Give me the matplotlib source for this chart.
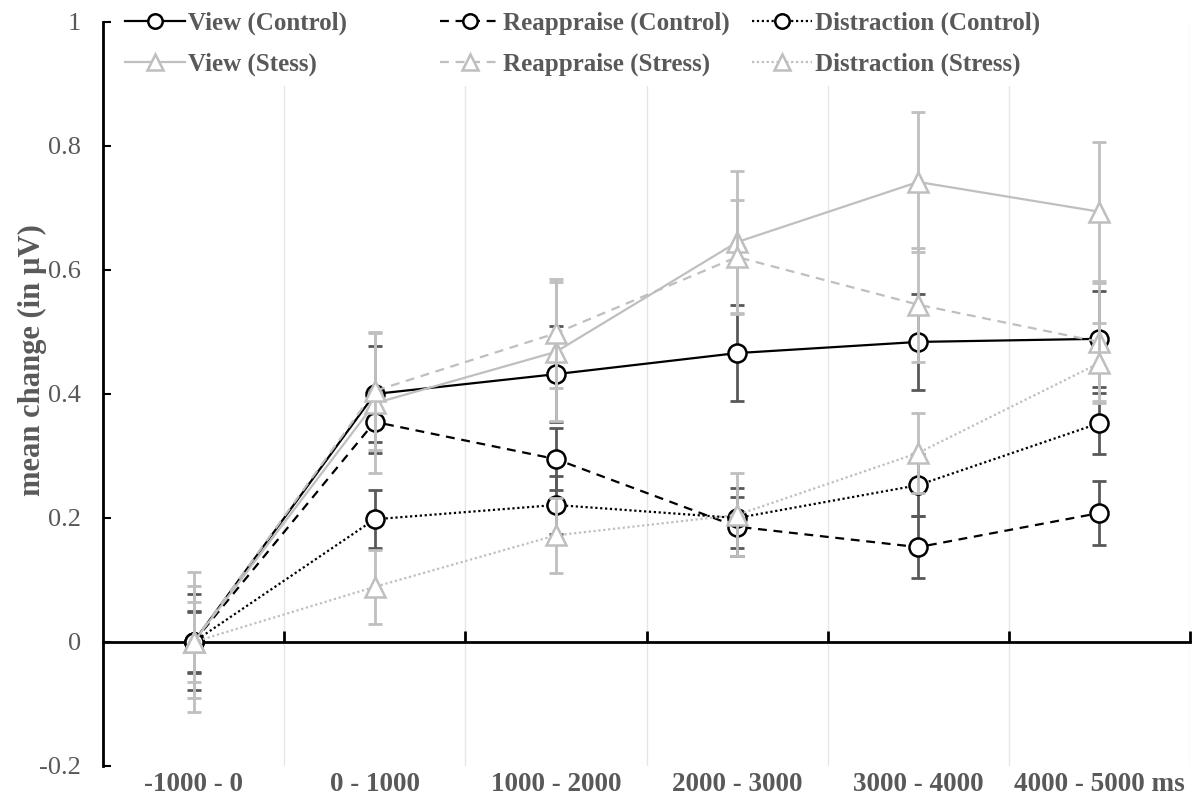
#!/usr/bin/env python
from __future__ import annotations

import matplotlib

matplotlib.use("Agg")
import matplotlib.pyplot as plt
import numpy as np

categories = ["-1000 - 0", "0 - 1000", "1000 - 2000", "2000 - 3000", "3000 - 4000", "4000 - 5000 ms"]

# means (in µV) per time window
view_control = [0.0, 0.400, 0.432, 0.466, 0.484, 0.489]
reapp_control = [0.0, 0.355, 0.295, 0.186, 0.153, 0.208]
distr_control = [0.0, 0.198, 0.221, 0.200, 0.253, 0.353]
view_stress = [0.0, 0.385, 0.468, 0.645, 0.742, 0.694]
reapp_stress = [0.0, 0.405, 0.498, 0.621, 0.544, 0.484]
distr_stress = [0.0, 0.089, 0.172, 0.205, 0.305, 0.450]

# error bar half-widths
view_control_err = [0.077, 0.077, 0.077, 0.078, 0.078, 0.077]
reapp_control_err = [0.050, 0.050, 0.050, 0.048, 0.050, 0.052]
distr_control_err = [0.048, 0.047, 0.047, 0.048, 0.050, 0.049]
view_stress_err = [0.113, 0.113, 0.112, 0.115, 0.113, 0.112]
reapp_stress_err = [0.090, 0.095, 0.088, 0.092, 0.092, 0.095]
distr_stress_err = [0.065, 0.060, 0.060, 0.067, 0.064, 0.065]

y_ticks = [-0.2, 0, 0.2, 0.4, 0.6, 0.8, 1]
y_tick_labels = ["-0.2", "0", "0.2", "0.4", "0.6", "0.8", "1"]

TEXT = "#595959"
DARK = "#000000"
LIGHT = "#bfbfbf"
ERR_DARK = "#595959"
W, H = 1192, 807

plt.rcParams["font.family"] = ["Liberation Serif", "DejaVu Serif"]

fig = plt.figure(figsize=(W / 100, H / 100), dpi=100)
ax = fig.add_axes([103 / W, 1 - 766 / H, (1190 - 103) / W, (766 - 22) / H])

x = np.arange(len(categories))

series = [
    ("View (Control)", view_control, view_control_err, DARK, ERR_DARK, "-", "o"),
    ("Reappraise (Control)", reapp_control, reapp_control_err, DARK, ERR_DARK, (0, (4, 3)), "o"),
    ("Distraction (Control)", distr_control, distr_control_err, DARK, ERR_DARK, (0, (1, 1.2)), "o"),
    ("View (Stess)", view_stress, view_stress_err, LIGHT, LIGHT, "-", "^"),
    ("Reappraise (Stress)", reapp_stress, reapp_stress_err, LIGHT, LIGHT, (0, (4, 3)), "^"),
    ("Distraction (Stress)", distr_stress, distr_stress_err, LIGHT, LIGHT, (0, (1, 1.2)), "^"),
]

handles = {}
for i, (label, vals, err, color, ecolor, ls, marker) in enumerate(series):
    ax.errorbar(x, vals, yerr=err, fmt="none", ecolor=ecolor, elinewidth=2,
                capsize=5, capthick=2, zorder=3 + i)
    (line,) = ax.plot(x, vals, linestyle=ls, color=color, linewidth=1.6,
                      marker=marker, markersize=13 if marker == "o" else 14,
                      markerfacecolor="white", markeredgecolor=color,
                      markeredgewidth=1.8, label=label, zorder=3.5 + i)
    handles[label] = line

ax.set_xlim(-0.5, len(categories) - 0.5)
ax.set_ylim(-0.2, 1.0)

# category boundaries: gridlines + ticks on the zero line
bounds = np.arange(len(categories)) + 0.5
ax.set_xticks(bounds)
ax.set_xticklabels([])
ax.spines["bottom"].set_position(("data", 0))
ax.spines["bottom"].set_linewidth(2)
ax.spines["bottom"].set_zorder(2)
ax.tick_params(axis="x", direction="in", length=8, width=2, color="black")
ax.grid(axis="x", color="#e6e6e6", linewidth=1, zorder=0)

sec = ax.secondary_xaxis(0.0)
sec.set_xticks(x)
sec.set_xticklabels(categories, fontsize=19.5, fontweight="bold", color=TEXT)
sec.tick_params(axis="x", length=0, pad=4)
sec.spines["bottom"].set_visible(False)

ax.set_yticks(y_ticks)
ax.set_yticklabels(y_tick_labels, fontsize=19, color=TEXT)
ax.tick_params(axis="y", direction="in", length=6, width=1.5, color="black", pad=16)
ax.spines["left"].set_linewidth(2)
for side in ("top", "right"):
    ax.spines[side].set_visible(False)

ax.set_ylabel("mean change (in \u00b5V)", fontsize=22, fontweight="bold", color=TEXT)
ax.yaxis.set_label_coords(-(103 - 47) / 1087, (766 - 360) / 744)

# Excel-style legend: three columns, two rows each
columns = [
    ("View (Control)", "View (Stess)"),
    ("Reappraise (Control)", "Reappraise (Stress)"),
    ("Distraction (Control)", "Distraction (Stress)"),
]
col_left = [115, 430, 742]
for left, labels in zip(col_left, columns):
    leg = ax.legend([handles[k] for k in labels], labels, loc="upper left",
                    bbox_to_anchor=(left / W, 0.998), bbox_transform=fig.transFigure,
                    frameon=True, facecolor="white", edgecolor="none", framealpha=1,
                    handlelength=2.4, handletextpad=0.12, labelspacing=0.72,
                    borderpad=0.4, borderaxespad=0, markerscale=0.8,
                    prop={"size": 18, "weight": "bold"})
    for t in leg.get_texts():
        t.set_color(TEXT)
    leg.set_zorder(20)
    ax.add_artist(leg)

fig.savefig("out.png", dpi=100)
